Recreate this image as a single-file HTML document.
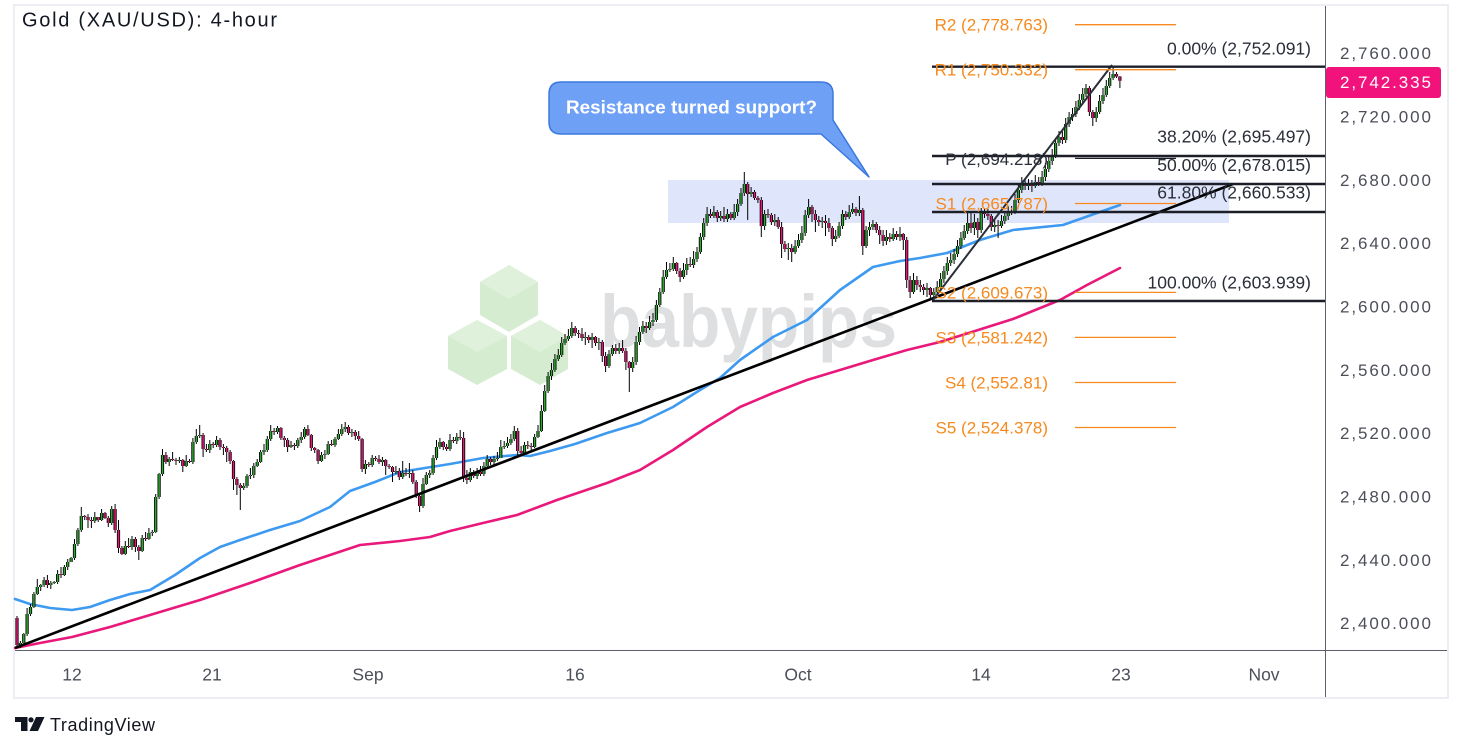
<!DOCTYPE html>
<html><head><meta charset="utf-8"><style>html,body{margin:0;padding:0;background:#fff;}svg{display:block;}</style></head>
<body>
<svg xmlns="http://www.w3.org/2000/svg" xmlns:xlink="http://www.w3.org/1999/xlink" width="1463" height="751" viewBox="0 0 1463 751" font-family="'Liberation Sans', sans-serif">
<defs>
<path id="gbd" d="M20.4 645V643M23.8 643V634M27.1 634V614M30.5 614V607M33.9 607V594M37.3 594V587M40.7 587V585M44.1 585V580M50.8 585V583M54.2 583V582M57.6 582V574M64.4 575V567M67.7 567V562M71.1 562V558M74.5 558V544M77.9 544V530M81.3 530V516M94.8 521V517M101.6 520V513M111.7 523V509M125.3 554V546M132 547V539M142.2 551V538M148.9 539V533M152.3 533V532M155.7 532V497M159.1 497V474M162.5 474V455M169.2 462V459M179.4 461V460M186.2 466V461M192.9 462V442M196.3 442V436M199.7 436V435M209.8 450V444M216.6 445V440M243.7 488V486M247 486V476M250.4 476V475M253.8 475V466M257.2 466V462M260.6 462V452M264 452V450M267.3 450V439M270.7 439V431M277.5 432V428M291 447V445M297.8 446V440M301.2 440V437M304.6 437V429M321.5 461V455M324.9 455V454M328.2 454V444M335 445V439M338.4 439V434M341.8 434V429M345.2 429V427M351.9 433V432M365.4 469V464M372.2 465V458M382.4 462V460M395.9 472V471M402.7 477V473M409.4 474V473M423 506V484M426.3 484V475M429.7 475V473M433.1 473V458M436.5 458V447M439.9 447V442M450 449V440M456.8 441V437M470.3 480V472M477.1 476V472M483.9 474V466M487.2 466V459M494 462V459M497.4 459V458M500.8 458V447M504.2 447V446M507.5 446V443M510.9 443V439M514.3 439V431M524.5 453V445M534.6 447V437M538 437V431M541.4 431V411M544.7 411V391M548.1 391V376M551.5 376V370M554.9 370V359M558.3 359V355M561.7 355V343M565 343V339M568.4 339V336M571.8 336V328M585.3 338V337M592.1 340V337M598.9 343V342M609 366V354M612.4 354V348M619.2 351V348M632.7 368V362M636.1 362V342M639.5 342V332M642.9 332V326M649.6 328V322M653 322V320M656.4 320V305M659.8 305V292M663.2 292V277M666.5 277V270M669.9 270V269M673.3 269V263M683.5 277V270M686.8 270V264M693.6 265V259M697 259V252M700.4 252V237M703.7 237V223M707.1 223V214M713.9 216V212M720.7 218V216M727.4 219V214M734.2 218V212M737.6 212V204M741 204V193M744.3 193V184M751.1 194V192M764.6 226V214M774.8 222V220M788.3 249V248M795.1 252V246M798.5 246V240M801.9 240V233M805.2 233V215M808.6 215V207M822.2 222V221M835.7 239V236M839.1 236V226M842.5 226V214M849.2 217V212M852.6 212V209M859.4 213V210M866.1 246V230M869.5 230V227M872.9 227V224M886.4 241V237M893.2 239V234M900 237V234M913.5 292V280M927 290V288M933.8 295V292M937.2 292V287M940.6 287V279M943.9 279V271M947.3 271V263M950.7 263V260M954.1 260V254M957.5 254V246M960.9 246V238M964.2 238V231M967.6 231V223M974.4 228V222M981.2 230V213M994.7 227V225M1001.5 226V221M1004.8 221V216M1008.2 216V211M1015 212V200M1018.4 200V190M1021.8 190V183M1028.5 186V183M1035.3 186V182M1042.1 183V177M1045.4 177V169M1048.8 169V161M1052.2 161V155M1055.6 155V143M1059 143V137M1065.7 140V124M1069.1 124V117M1072.5 117V114M1075.9 114V107M1079.3 107V100M1082.7 100V94M1086 94V88M1096.2 118V112M1099.6 112V101M1103 101V95M1106.3 95V86M1109.7 86V78M1113.1 78V74"/>
<path id="pbd" d="M17 618V645M47.4 580V585M61 574V575M84.7 516V517M88 517V520M91.4 520V521M98.2 517V520M105 513V518M108.3 518V523M115.1 509V530M118.5 530V548M121.9 548V554M128.6 546V547M135.4 539V547M138.8 547V551M145.6 538V539M165.9 455V462M172.6 459V460M176 460V461M182.8 460V466M189.5 461V462M203.1 435V449M206.4 449V450M213.2 444V445M220 440V447M223.4 447V448M226.7 448V452M230.1 452V461M233.5 461V479M236.9 479V485M240.3 485V488M274.1 431V432M280.9 428V438M284.3 438V440M287.6 440V447M294.4 445V446M307.9 429V435M311.3 435V448M314.7 448V450M318.1 450V461M331.6 444V445M348.5 427V433M355.3 432V436M358.7 436V439M362.1 439V469M368.8 464V465M375.6 458V459M379 459V462M385.7 460V466M389.1 466V467M392.5 467V472M399.3 471V477M406 473V474M412.8 473V482M416.2 482V496M419.6 496V506M443.3 442V447M446.6 447V449M453.4 440V441M460.2 437V438M463.6 438V478M466.9 478V480M473.7 472V476M480.5 472V474M490.6 459V462M517.7 431V451M521.1 451V453M527.8 445V446M531.2 446V447M575.2 328V333M578.6 333V334M582 334V338M588.7 337V340M595.5 337V343M602.3 342V356M605.6 356V366M615.8 348V351M622.6 348V351M625.9 351V362M629.3 362V368M646.2 326V328M676.7 263V271M680.1 271V277M690.2 264V265M710.5 214V216M717.3 212V218M724 216V219M730.8 214V218M747.7 184V194M754.5 192V198M757.9 198V200M761.3 200V226M768 214V215M771.4 215V222M778.2 220V227M781.6 227V244M784.9 244V249M791.7 248V252M812 207V214M815.4 214V220M818.8 220V222M825.5 221V223M828.9 223V228M832.3 228V239M845.8 214V217M856 209V213M862.8 210V246M876.3 224V230M879.7 230V235M883.1 235V241M889.8 237V239M896.6 234V237M903.3 234V240M906.7 240V280M910.1 280V292M916.9 280V285M920.3 285V287M923.6 287V290M930.4 288V295M971 223V228M977.8 222V230M984.5 213V214M987.9 214V216M991.3 216V227M998.1 225V226M1011.6 211V212M1025.1 183V186M1031.9 183V186M1038.7 182V183M1062.4 137V140M1089.4 88V112M1092.8 112V118M1116.5 74V76.5M1119.9 76.5V80.7"/>
</defs>
<rect x="0" y="0" width="1463" height="751" fill="#fff"/>
<rect x="14" y="5" width="1434" height="693" fill="none" stroke="#eceef4" stroke-width="2"/>
<!-- watermark -->
<g>
<polygon points="509,265 538,282 538,315 509,332 480,315 480,282" fill="#d5ecd1"/>
<polygon points="509,265 538,282 509,299 480,282" fill="#dff1db"/>
<polygon points="477,320 507,336 507,369 477,385 448,369 448,336" fill="#d5ecd1"/>
<polygon points="477,320 507,336 477,352 448,336" fill="#dff1db"/>
<polygon points="540,320 568,336 568,369 540,385 511,369 511,336" fill="#d5ecd1"/>
<polygon points="540,320 568,336 540,352 511,336" fill="#dff1db"/>
<text x="600" y="347" font-size="74" font-weight="bold" fill="#dedfe1" textLength="297" lengthAdjust="spacingAndGlyphs">babypips</text>
</g>
<!-- zone -->
<rect x="668" y="180" width="561" height="43" fill="#dfe6fb"/>
<!-- axes -->
<line x1="1325.5" y1="6" x2="1325.5" y2="697" stroke="#5d606b" stroke-width="1"/>
<line x1="15" y1="650.5" x2="1447" y2="650.5" stroke="#5d606b" stroke-width="1"/>
<!-- MAs -->
<polyline fill="none" stroke="#e8197a" stroke-width="2.6" stroke-linejoin="round" stroke-linecap="round" points="15,648 40,643 72,637 110,627 150,615 200,600 250,583 300,565 330,555 360,545 400,541 430,537 450,531 483,523 517,515 557,500 607,483 640,470 673,450 707,427 740,407 773,393 807,380 840,370 873,360 907,350 940,342 975,331 1013,319 1060,300 1087,285 1120,268"/>
<polyline fill="none" stroke="#3d9af0" stroke-width="2.6" stroke-linejoin="round" stroke-linecap="round" points="15,599 30,604 50,608 72,610 90,607 110,600 130,594 150,590 175,575 200,558 220,547 240,540 270,530 300,521 330,507 350,491 375,482 400,472 425,468 450,464 483,458 517,455 530,456 550,451 575,444 607,433 640,423 673,407 700,390 720,378 740,360 773,337 807,320 840,290 873,267 900,261 920,258 947,253 980,240 1013,230 1063,225 1097,213 1120,205"/>
<!-- candles -->
<path fill="none" stroke="#000" stroke-width="1" d="M17 616V648M20.4 641V648M23.8 633V645M27.1 608V636M30.5 604V616M33.9 592V608M37.3 579V595M40.7 584V591M44.1 577V587M47.4 575V588M50.8 581V589M54.2 581V584M57.6 570V584M61 567V578M64.4 565V576M67.7 559V570M71.1 557V562M74.5 539V560M77.9 528V546M81.3 507V532M84.7 515V520M88 514V528M91.4 517V528M94.8 512V523M98.2 517V522M101.6 509V521M105 512V519M108.3 516V527M111.7 506V525M115.1 504V533M118.5 520V553M121.9 546V555M125.3 541V555M128.6 538V548M132 536V550M135.4 537V552M138.8 545V560M142.2 535V552M145.6 532V541M148.9 528V540M152.3 530V536M155.7 494V533M159.1 473V499M162.5 449V476M165.9 452V464M169.2 457V466M172.6 452V461M176 458V465M179.4 457V463M182.8 459V472M186.2 455V467M189.5 459V463M192.9 438V464M196.3 429V444M199.7 425V438M203.1 433V457M206.4 444V452M209.8 440V453M213.2 442V448M216.6 436V447M220 438V450M223.4 444V455M226.7 446V462M230.1 450V464M233.5 460V490M236.9 477V495M240.3 483V510M243.7 483V490M247 474V488M250.4 468V479M253.8 463V478M257.2 459V467M260.6 450V463M264 444V455M267.3 436V452M270.7 425V441M274.1 428V435M277.5 426V434M280.9 427V440M284.3 436V447M287.6 438V452M291 441V448M294.4 443V450M297.8 438V448M301.2 432V443M304.6 427V439M307.9 425V436M311.3 434V451M314.7 447V453M318.1 449V464M321.5 452V462M324.9 450V459M328.2 441V455M331.6 440V446M335 437V447M338.4 429V440M341.8 424V436M345.2 422V432M348.5 425V435M351.9 429V437M355.3 430V440M358.7 431V441M362.1 438V472M365.4 460V474M368.8 462V467M372.2 455V467M375.6 456V461M379 455V464M382.4 457V466M385.7 459V475M389.1 464V469M392.5 466V482M395.9 466V474M399.3 468V480M402.7 461V479M406 468V476M409.4 463V478M412.8 470V484M416.2 480V498M419.6 494V512M423 478V508M426.3 472V485M429.7 470V478M433.1 455V475M436.5 440V460M439.9 438V449M443.3 441V450M446.6 444V451M450 434V451M453.4 437V443M456.8 433V444M460.2 430V440M463.6 432V482M466.9 470V484M470.3 468V482M473.7 470V478M477.1 468V479M480.5 466V476M483.9 462V476M487.2 455V468M490.6 457V465M494 456V466M497.4 452V461M500.8 440V458M504.2 441V449M507.5 437V448M510.9 434V445M514.3 426V441M517.7 428V455M521.1 446V456M524.5 442V455M527.8 441V449M531.2 443V450M534.6 434V448M538 425V438M541.4 405V432M544.7 385V412M548.1 372V393M551.5 363V380M554.9 354V372M558.3 349V361M561.7 337V357M565 334V345M568.4 329V341M571.8 322V338M575.2 326V336M578.6 330V338M582 328V341M585.3 332V345M588.7 335V343M592.1 333V348M595.5 336V346M598.9 338V350M602.3 340V362M605.6 352V372M609 350V368M612.4 345V356M615.8 344V354M619.2 343V354M622.6 340V353M625.9 348V370M629.3 361V392M632.7 357V372M636.1 336V365M639.5 327V345M642.9 321V334M646.2 322V333M649.6 316V330M653 313V326M656.4 300V322M659.8 288V307M663.2 270V294M666.5 262V279M669.9 263V272M673.3 257V271M676.7 262V274M680.1 268V282M683.5 263V279M686.8 258V275M690.2 257V267M693.6 251V268M697 247V262M700.4 233V254M703.7 218V240M707.1 207V226M710.5 209V218M713.9 206V218M717.3 210V222M720.7 211V221M724 207V222M727.4 209V222M730.8 212V220M734.2 204V220M737.6 199V216M741 188V206M744.3 172V196M747.7 182V220M751.1 187V197M754.5 190V200M757.9 196V203M761.3 197V237M764.6 210V230M768 209V218M771.4 213V225M774.8 214V226M778.2 217V229M781.6 222V258M784.9 241V252M788.3 243V260M791.7 244V262M795.1 240V254M798.5 234V248M801.9 226V243M805.2 210V236M808.6 199V218M812 205V222M815.4 210V232M818.8 216V226M822.2 217V228M825.5 215V236M828.9 218V232M832.3 226V246M835.7 230V242M839.1 222V238M842.5 210V229M845.8 211V220M849.2 205V219M852.6 203V214M856 207V216M859.4 196V216M862.8 208V255M866.1 226V248M869.5 222V236M872.9 220V230M876.3 222V233M879.7 226V244M883.1 230V246M886.4 230V245M889.8 233V242M893.2 228V241M896.6 231V240M900 227V241M903.3 233V250M906.7 237V288M910.1 276V298M913.5 273V294M916.9 276V290M920.3 280V292M923.6 284V295M927 283V297M930.4 287V300M933.8 288V301M937.2 281V296M940.6 273V290M943.9 266V283M947.3 257V275M950.7 253V266M954.1 249V264M957.5 240V257M960.9 232V249M964.2 225V240M967.6 211V234M971 213V233M974.4 214V235M977.8 218V238M981.2 208V233M984.5 208V218M987.9 209V220M991.3 214V231M994.7 220V232M998.1 220V238M1001.5 215V228M1004.8 211V224M1008.2 206V220M1011.6 206V215M1015 194V214M1018.4 185V203M1021.8 177V193M1025.1 178V190M1028.5 179V190M1031.9 180V192M1035.3 175V188M1038.7 177V186M1042.1 171V186M1045.4 163V181M1048.8 156V172M1052.2 149V165M1055.6 138V158M1059 131V146M1062.4 130V144M1065.7 118V143M1069.1 112V127M1072.5 108V121M1075.9 101V117M1079.3 94V110M1082.7 88V104M1086 84V97M1089.4 86V116M1092.8 110V126M1096.2 107V122M1099.6 95V114M1103 88V104M1106.3 80V97M1109.7 72V88M1113.1 67V80M1116.5 72V78M1119.9 76V88"/>
<use href="#gbd" xlink:href="#gbd" fill="none" stroke="#000" stroke-width="3.2"/>
<use href="#pbd" xlink:href="#pbd" fill="none" stroke="#000" stroke-width="3.2"/>
<use href="#gbd" xlink:href="#gbd" fill="none" stroke="#2fa82f" stroke-width="1.5"/>
<use href="#pbd" xlink:href="#pbd" fill="none" stroke="#e6177a" stroke-width="1.5"/>
<!-- trend lines -->
<line x1="15" y1="648" x2="1233" y2="184" stroke="#000" stroke-width="2.6"/>
<line x1="933" y1="300" x2="1112" y2="65" stroke="#2b2f3a" stroke-width="2"/>
<!-- fib lines -->
<g stroke="#1c1f28" stroke-width="2.4">
<line x1="932" y1="66.7" x2="1325" y2="66.7"/>
<line x1="932" y1="156" x2="1325" y2="156"/>
<line x1="932" y1="184" x2="1325" y2="184"/>
<line x1="932" y1="212" x2="1325" y2="212"/>
<line x1="932" y1="301" x2="1325" y2="301"/>
</g>
<g font-size="17.5" fill="#2a2e39" text-anchor="end">
<text x="1311" y="54.3">0.00% (2,752.091)</text>
<text x="1311" y="142.7">38.20% (2,695.497)</text>
<text x="1311" y="171">50.00% (2,678.015)</text>
<text x="1311" y="198.7">61.80% (2,660.533)</text>
<text x="1311" y="288.7">100.00% (2,603.939)</text>
</g>
<!-- pivot lines -->
<g stroke="#f68a1e" stroke-width="1.3">
<line x1="1075" y1="24.7" x2="1176" y2="24.7"/>
<line x1="1075" y1="69.7" x2="1176" y2="69.7"/>
<line x1="1075" y1="203.5" x2="1176" y2="203.5"/>
<line x1="1075" y1="292.4" x2="1176" y2="292.4"/>
<line x1="1075" y1="337.4" x2="1176" y2="337.4"/>
<line x1="1075" y1="382.5" x2="1176" y2="382.5"/>
<line x1="1075" y1="427.5" x2="1176" y2="427.5"/>
</g>
<line x1="1075" y1="158.4" x2="1176" y2="158.4" stroke="#1c1f28" stroke-width="1.3"/>
<g font-size="17" fill="#f68a1e" text-anchor="end">
<text x="1048" y="30.7">R2 (2,778.763)</text>
<text x="1048" y="75.7">R1 (2,750.332)</text>
<text x="1048" y="209.5">S1 (2,665.787)</text>
<text x="1048" y="298.4">S2 (2,609.673)</text>
<text x="1048" y="343.4">S3 (2,581.242)</text>
<text x="1048" y="388.5">S4 (2,552.81)</text>
<text x="1048" y="433.5">S5 (2,524.378)</text>
</g>
<text x="1048" y="165" font-size="17" fill="#2a2e39" text-anchor="end">P (2,694.218)</text>
<!-- callout -->
<path d="M561,82 H821 Q833,82 833,94 V120 L869,177 L821,134 H561 Q549,134 549,122 V94 Q549,82 561,82 Z" fill="#6ea0f6" stroke="#3a78de" stroke-width="1.5" stroke-linejoin="round"/>
<text x="566" y="113.5" font-size="18" font-weight="bold" fill="#fff" textLength="251" lengthAdjust="spacingAndGlyphs">Resistance turned support?</text>
<!-- price axis labels -->
<g font-size="17" fill="#4c4f59">
<text x="1340" y="59.2" textLength="91">2,760.000</text>
<text x="1340" y="122.5" textLength="91">2,720.000</text>
<text x="1340" y="185.9" textLength="91">2,680.000</text>
<text x="1340" y="249.2" textLength="91">2,640.000</text>
<text x="1340" y="312.5" textLength="91">2,600.000</text>
<text x="1340" y="375.9" textLength="91">2,560.000</text>
<text x="1340" y="439.2" textLength="91">2,520.000</text>
<text x="1340" y="502.5" textLength="91">2,480.000</text>
<text x="1340" y="565.9" textLength="91">2,440.000</text>
<text x="1340" y="629.2" textLength="91">2,400.000</text>
</g>
<rect x="1326" y="67" width="115" height="31" rx="3" fill="#f2127b"/>
<text x="1340" y="88.2" font-size="17" fill="#fff" textLength="91">2,742.335</text>
<!-- date labels -->
<g font-size="17.5" fill="#4c4f59" text-anchor="middle">
<text x="72" y="680.5">12</text>
<text x="212" y="680.5">21</text>
<text x="368" y="680.5">Sep</text>
<text x="575" y="680.5">16</text>
<text x="798" y="680.5">Oct</text>
<text x="981" y="680.5">14</text>
<text x="1121" y="680.5">23</text>
<text x="1264" y="680.5">Nov</text>
</g>
<!-- title -->
<text x="22" y="26.5" font-size="20" fill="#131722" textLength="255">Gold (XAU/USD): 4-hour</text>
<!-- TradingView logo -->
<g fill="#131722">
<rect x="15" y="717" width="12.5" height="5"/>
<rect x="21" y="717" width="6.5" height="14"/>
<circle cx="31" cy="719.8" r="2.6"/>
<polygon points="36,717 44.5,717 38,731 29.5,731"/>
</g>
<text x="50" y="731" font-size="18" fill="#131722" textLength="105">TradingView</text>
</svg>
</body></html>
